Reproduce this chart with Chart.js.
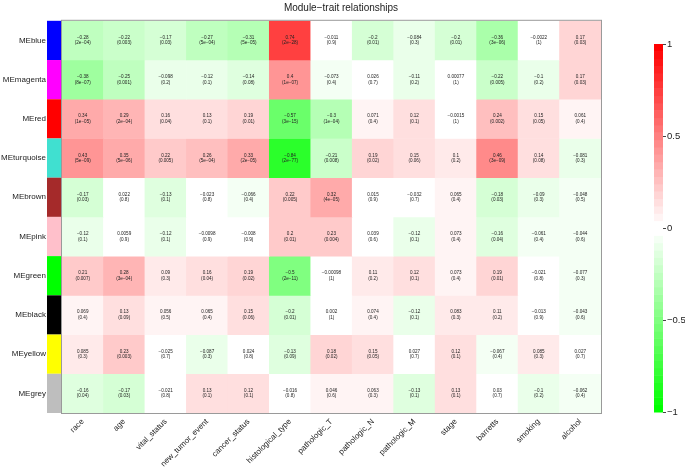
<!DOCTYPE html>
<html>
<head>
<meta charset="utf-8">
<script src="https://cdn.jsdelivr.net/npm/chart.js@4.4.0/dist/chart.umd.min.js"></script>
<style>
html, body { margin: 0; padding: 0; background: #fff; }
#wrap { width: 685px; height: 467px; }
</style>
</head>
<body>
<div id="wrap"><canvas id="heatmap"></canvas></div>
<script>
// traits (columns) and modules (rows)
const traits = ['race', 'age', 'vital_status', 'new_tumor_event', 'cancer_status', 'histological_type',
  'pathologic_T', 'pathologic_N', 'pathologic_M', 'stage', 'barretts', 'smoking', 'alcohol'];
const modules = ['MEblue', 'MEmagenta', 'MEred', 'MEturquoise', 'MEbrown', 'MEpink', 'MEgreen', 'MEblack', 'MEyellow', 'MEgrey'];
const moduleColors = ['#0000ff', '#ff00ff', '#ff0000', '#40e0d0', '#a52a2a', '#ffc0cb', '#00ff00', '#000000', '#ffff00', '#bebebe'];

// correlations, one array per module
const corBlue      = [-0.28, -0.22, -0.17, -0.27, -0.31, 0.74, -0.011, -0.2, -0.084, -0.2, -0.36, -0.0022, 0.17];
const corMagenta   = [-0.38, -0.25, -0.098, -0.12, -0.14, 0.4, -0.073, 0.026, -0.11, 0.00077, -0.22, -0.1, 0.17];
const corRed       = [0.34, 0.29, 0.16, 0.13, 0.19, -0.57, -0.3, 0.071, 0.12, -0.0015, 0.24, 0.15, 0.061];
const corTurquoise = [0.43, 0.35, 0.22, 0.26, 0.33, -0.84, -0.21, 0.19, 0.15, 0.1, 0.46, 0.14, -0.081];
const corBrown     = [-0.17, 0.022, -0.13, -0.023, -0.066, 0.22, 0.32, 0.015, -0.032, 0.065, -0.18, -0.09, -0.048];
const corPink      = [-0.12, 0.0059, -0.12, -0.0098, -0.008, 0.2, 0.23, 0.039, -0.12, 0.073, -0.16, -0.061, -0.044];
const corGreen     = [0.21, 0.28, 0.09, 0.16, 0.19, -0.5, -0.00098, 0.11, 0.12, 0.073, 0.19, -0.021, -0.077];
const corBlack     = [0.069, 0.13, 0.056, 0.065, 0.15, -0.2, 0.002, 0.074, -0.12, 0.083, 0.11, -0.013, -0.043];
const corYellow    = [0.085, 0.23, -0.025, -0.087, 0.024, -0.13, 0.18, 0.15, 0.027, 0.12, -0.067, 0.085, 0.027];
const corGrey      = [-0.16, -0.17, -0.021, 0.13, 0.12, -0.016, 0.046, 0.063, -0.13, 0.13, 0.03, -0.1, -0.062];

// p-values as printed
const pBlue      = ['2e-04', '0.003', '0.03', '5e-04', '5e-05', '2e-28', '0.9', '0.01', '0.3', '0.01', '3e-06', '1', '0.03'];
const pMagenta   = ['8e-07', '0.001', '0.2', '0.1', '0.08', '1e-07', '0.4', '0.7', '0.2', '1', '0.005', '0.2', '0.03'];
const pRed       = ['1e-05', '2e-04', '0.04', '0.1', '0.01', '3e-15', '1e-04', '0.4', '0.1', '1', '0.002', '0.05', '0.4'];
const pTurquoise = ['5e-09', '5e-06', '0.005', '5e-04', '2e-05', '2e-77', '0.008', '0.02', '0.06', '0.2', '3e-09', '0.08', '0.3'];
const pBrown     = ['0.03', '0.8', '0.1', '0.8', '0.4', '0.005', '4e-05', '0.9', '0.7', '0.4', '0.03', '0.3', '0.5'];
const pPink      = ['0.1', '0.9', '0.1', '0.9', '0.9', '0.01', '0.004', '0.6', '0.1', '0.4', '0.04', '0.4', '0.6'];
const pGreen     = ['0.007', '3e-04', '0.3', '0.04', '0.02', '2e-11', '1', '0.2', '0.1', '0.4', '0.01', '0.8', '0.3'];
const pBlack     = ['0.4', '0.09', '0.5', '0.4', '0.06', '0.01', '1', '0.4', '0.1', '0.3', '0.2', '0.9', '0.6'];
const pYellow    = ['0.3', '0.003', '0.7', '0.3', '0.8', '0.09', '0.02', '0.05', '0.7', '0.1', '0.4', '0.3', '0.7'];
const pGrey      = ['0.04', '0.03', '0.8', '0.1', '0.1', '0.8', '0.6', '0.3', '0.1', '0.1', '0.7', '0.2', '0.4'];

const colorbarTicks = [1, 0.5, 0, -0.5, -1];

const corRows = [corBlue, corMagenta, corRed, corTurquoise, corBrown, corPink, corGreen, corBlack, corYellow, corGrey];
const pRows = [pBlue, pMagenta, pRed, pTurquoise, pBrown, pPink, pGreen, pBlack, pYellow, pGrey];

// green - white - red, 50 steps like WGCNA
function cellColor(v) {
  let bin = Math.floor((v + 1) / 0.04);
  if (bin > 49) bin = 49;
  if (bin < 0) bin = 0;
  let r, g, b;
  if (bin < 25) {
    const t = bin / 24;
    r = b = Math.round(255 * t); g = 255;
  } else {
    const t = (bin - 25) / 24;
    r = 255; g = b = Math.round(255 * (1 - t));
  }
  return 'rgb(' + r + ',' + g + ',' + b + ')';
}

function fmt(v) {
  return String(v).replace('-', '\u2212');
}

const datasets = modules.map((m, i) => ({
  label: m,
  data: corRows[i].map(() => [9 - i, 10 - i]),
  backgroundColor: corRows[i].map(cellColor),
  borderWidth: 0,
  barPercentage: 1,
  categoryPercentage: 1,
  grouped: false
}));

const extras = {
  id: 'extras',
  afterDatasetsDraw(chart) {
    const ctx = chart.ctx;
    const area = chart.chartArea;
    const y = chart.scales.y;

    // cell texts
    ctx.save();
    ctx.fillStyle = '#222';
    ctx.font = '4.6px "Liberation Sans", Arial, sans-serif';
    ctx.textAlign = 'center';
    ctx.textBaseline = 'middle';
    modules.forEach((m, i) => {
      const meta = chart.getDatasetMeta(i);
      meta.data.forEach((bar, j) => {
        const cy = (y.getPixelForValue(9 - i) + y.getPixelForValue(10 - i)) / 2;
        ctx.fillText(fmt(corRows[i][j]), bar.x, cy - 2.8);
        ctx.fillText('(' + pRows[i][j].replace('-', '\u2212') + ')', bar.x, cy + 2.8);
      });
    });
    ctx.restore();

    // module colour strip
    ctx.save();
    modules.forEach((m, i) => {
      const top = y.getPixelForValue(10 - i);
      const bot = y.getPixelForValue(9 - i);
      ctx.fillStyle = moduleColors[i];
      ctx.fillRect(47, top, 14, bot - top);
    });
    ctx.restore();

    // plot border
    ctx.save();
    ctx.strokeStyle = '#9a9a9a';
    ctx.lineWidth = 1;
    ctx.strokeRect(area.left - 0.5, area.top - 0.5, area.right - area.left + 1, area.bottom - area.top + 1);
    ctx.restore();

    // title
    ctx.save();
    ctx.fillStyle = '#222';
    ctx.font = '10px "Liberation Sans", Arial, sans-serif';
    ctx.textAlign = 'center';
    ctx.textBaseline = 'middle';
    ctx.fillText('Module\u2212trait relationships', 341, 8);
    ctx.restore();

    // colour bar
    const cbLeft = 654, cbRight = 663, cbTop = 44, cbBot = 412;
    const cbPix = v => cbBot - (v + 1) / 2 * (cbBot - cbTop);
    ctx.save();
    for (let k = 0; k < 50; k++) {
      const lo = -1 + k * 0.04, hi = lo + 0.04;
      ctx.fillStyle = cellColor(lo + 0.02);
      ctx.fillRect(cbLeft, cbPix(hi), cbRight - cbLeft, cbPix(lo) - cbPix(hi) + 0.5);
    }
    ctx.strokeStyle = '#444';
    ctx.fillStyle = '#222';
    ctx.font = '9.5px "Liberation Sans", Arial, sans-serif';
    ctx.textAlign = 'left';
    ctx.textBaseline = 'middle';
    colorbarTicks.forEach(t => {
      const py = Math.round(cbPix(t)) + 0.5;
      ctx.beginPath();
      ctx.moveTo(cbRight, py);
      ctx.lineTo(cbRight + 3, py);
      ctx.stroke();
      ctx.fillText(fmt(t), cbRight + 4, py);
    });
    ctx.restore();
  }
};

new Chart(document.getElementById('heatmap'), {
  type: 'bar',
  data: { labels: traits, datasets: datasets },
  options: {
    responsive: true,
    maintainAspectRatio: false,
    animation: false,
    layout: { padding: { top: 19, right: 84, bottom: 0, left: 0 } },
    plugins: { legend: { display: false }, tooltip: { enabled: false }, title: { display: false } },
    scales: {
      x: {
        type: 'category',
        grid: { display: false, drawTicks: false },
        border: { display: false },
        ticks: {
          autoSkip: false, maxRotation: 45, minRotation: 45, padding: 4,
          color: '#222', font: { family: '"Liberation Sans", Arial, sans-serif', size: 8 }
        },
        afterFit: s => { s.height = 54; }
      },
      y: {
        type: 'linear',
        min: 0, max: 10,
        grid: { display: false, drawTicks: false },
        border: { display: false },
        afterBuildTicks: s => { s.ticks = modules.map((m, i) => ({ value: 9.5 - i })); },
        ticks: {
          autoSkip: false, padding: 16,
          color: '#222', font: { family: '"Liberation Sans", Arial, sans-serif', size: 8 },
          callback: v => modules[Math.round(9.5 - v)]
        },
        afterFit: s => { s.width = 62; }
      }
    }
  },
  plugins: [extras]
});
</script>
</body>
</html>
